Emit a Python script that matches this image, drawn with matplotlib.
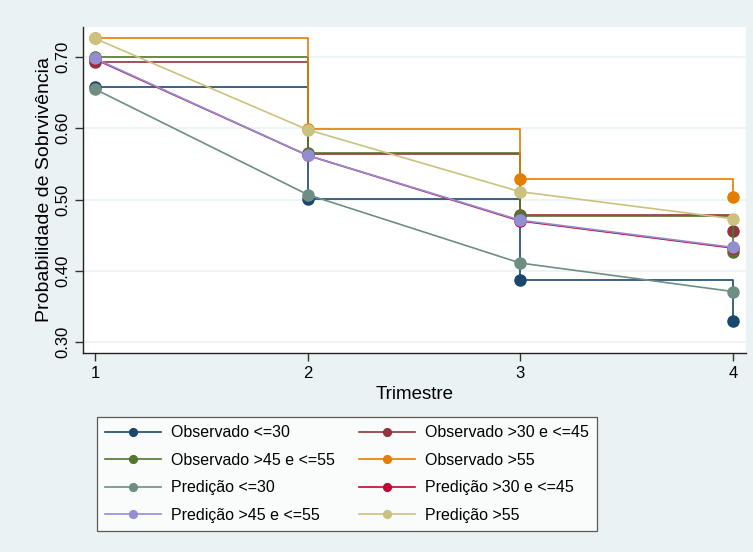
import matplotlib.pyplot as plt

plt.rcParams['font.family'] = ['Liberation Sans', 'DejaVu Sans']

trimestre = [1, 2, 3, 4]

# observed survival by age group (step curves)
obs_le30 = [0.658, 0.501, 0.387, 0.330]
obs_30_45 = [0.693, 0.564, 0.479, 0.456]
obs_45_55 = [0.700, 0.566, 0.477, 0.427]
obs_gt55 = [0.726, 0.599, 0.529, 0.503]

# predicted survival by age group
pred_le30 = [0.655, 0.507, 0.411, 0.371]
pred_30_45 = [0.697, 0.562, 0.470, 0.432]
pred_45_55 = [0.698, 0.562, 0.471, 0.433]
pred_gt55 = [0.726, 0.598, 0.511, 0.473]

yticks = [0.30, 0.40, 0.50, 0.60, 0.70]
ytick_labels = ["0.30", "0.40", "0.50", "0.60", "0.70"]

BG = "#eaf2f3"

series = [
    ("Observado <=30", obs_le30, "#1a476f", True),
    ("Observado >30 e <=45", obs_30_45, "#90353b", True),
    ("Observado >45 e <=55", obs_45_55, "#55752f", True),
    ("Observado >55", obs_gt55, "#e37e00", True),
    ("Predição <=30", pred_le30, "#6e8e84", False),
    ("Predição >30 e <=45", pred_30_45, "#c10534", False),
    ("Predição >45 e <=55", pred_45_55, "#938dd2", False),
    ("Predição >55", pred_gt55, "#cac27e", False),
]

fig = plt.figure(figsize=(7.53, 5.52), dpi=100, facecolor=BG)
ax = fig.add_axes([0.1102, 0.36, 0.8805, 0.5916])
ax.set_facecolor("white")

handles = []
for label, vals, color, step in series:
    ds = "steps-post" if step else "default"
    h, = ax.plot(trimestre, vals, color=color, lw=1.2, drawstyle=ds,
                 marker="o", markersize=8, label=label)
    handles.append(h)

ax.set_xlim(0.944, 4.061)
ax.set_ylim(0.2844, 0.7425)
ax.set_xticks(trimestre)
ax.set_yticks(yticks)
ax.set_yticklabels(ytick_labels, rotation=90, va="center")
ax.tick_params(axis="both", labelsize=12, length=6, width=1, color="#333333", pad=3)
ax.grid(axis="y", color=BG, lw=1.2)
ax.set_axisbelow(True)
for s in ["top", "right"]:
    ax.spines[s].set_visible(False)
for s in ["left", "bottom"]:
    ax.spines[s].set_color("#222222")
    ax.spines[s].set_linewidth(1)

ax.set_xlabel("Trimestre", fontsize=13.5, labelpad=4)
ax.set_ylabel("Probabilidade de Sobrvivência", fontsize=14, labelpad=1.5)

# two columns, filled column-wise
order = [0, 2, 4, 6, 1, 3, 5, 7]
leg = fig.legend([handles[i] for i in order], [series[i][0] for i in order],
                 ncol=2, loc="center", bbox_to_anchor=(347 / 753, 1 - 474 / 552),
                 fontsize=11.5, frameon=True, fancybox=False, edgecolor="#333333",
                 handlelength=3.5, handletextpad=0.65, columnspacing=1.5,
                 labelspacing=0.78, borderpad=0.5, markerscale=0.7)
leg.get_frame().set_linewidth(0.9)

fig.savefig("out.png", dpi=100, facecolor=BG)
